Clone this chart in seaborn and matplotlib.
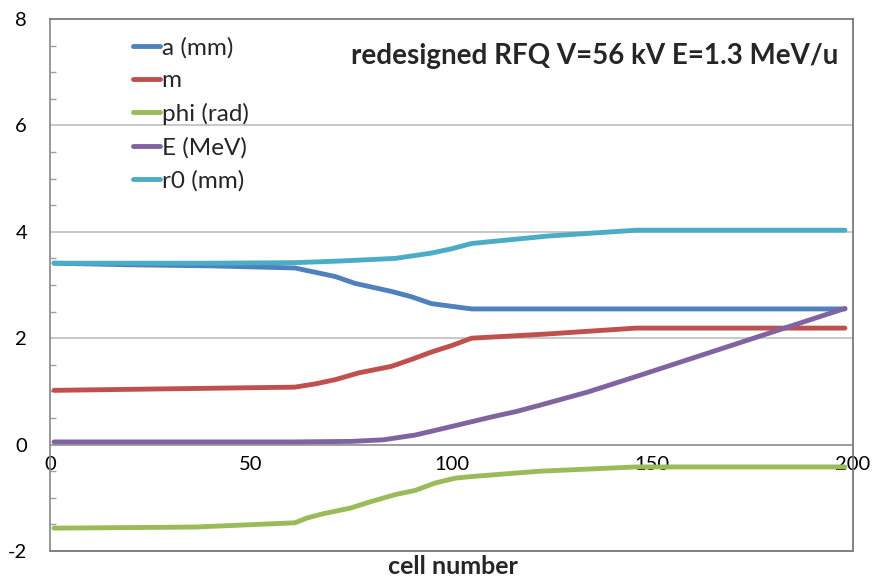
import numpy as np
import pandas as pd
import matplotlib
matplotlib.use("Agg")
import matplotlib.pyplot as plt
import seaborn as sns
from matplotlib.ticker import MultipleLocator

# ---- data ----
a_x = [1, 20, 40, 61, 66, 71, 76, 85, 90, 95, 100, 105, 198]
a_y = [3.41, 3.38, 3.36, 3.32, 3.24, 3.16, 3.03, 2.88, 2.78, 2.65, 2.60, 2.55, 2.55]

m_x = [1, 61, 66, 71, 77, 85, 90, 95, 100, 105, 124, 146, 198]
m_y = [1.02, 1.08, 1.14, 1.22, 1.35, 1.47, 1.60, 1.74, 1.86, 2.00, 2.08, 2.19, 2.19]

phi_x = [1, 36, 61, 64, 68, 75, 80, 86, 91, 96, 101, 105, 122, 146, 198]
phi_y = [-1.57, -1.55, -1.47, -1.38, -1.30, -1.19, -1.07, -0.94, -0.86, -0.72, -0.63, -0.60, -0.50, -0.42, -0.42]

E_x = [1, 60, 75, 83, 91, 100, 110, 116, 122, 134, 146, 172, 198]
E_y = [0.05, 0.05, 0.06, 0.09, 0.18, 0.34, 0.52, 0.62, 0.74, 0.99, 1.28, 1.92, 2.56]

r0_x = [1, 40, 61, 72, 86, 95, 100, 105, 124, 146, 198]
r0_y = [3.41, 3.41, 3.42, 3.45, 3.50, 3.60, 3.68, 3.78, 3.92, 4.03, 4.03]

series_names = ["a (mm)", "m", "phi (rad)", "E (MeV)", "r0 (mm)"]
colors = ["#4F81BD", "#C0504D", "#9BBB59", "#8064A2", "#4BACC6"]
x_ticks = [0, 50, 100, 150, 200]
y_ticks = [-2, 0, 2, 4, 6, 8]
title_text = "redesigned RFQ V=56 kV E=1.3 MeV/u"
x_label = "cell number"

frames = []
for name, xs, ys in zip(series_names,
                        [a_x, m_x, phi_x, E_x, r0_x],
                        [a_y, m_y, phi_y, E_y, r0_y]):
    frames.append(pd.DataFrame({"cell": xs, "value": ys, "series": name}))
df = pd.concat(frames, ignore_index=True)

sns.set_theme(style="white")
plt.rcParams["font.family"] = ["Lato", "DejaVu Sans"]
plt.rcParams["axes.unicode_minus"] = False

fig = plt.figure(figsize=(8.85, 5.84), dpi=100)
ax = fig.add_axes([50 / 885, 1 - 551 / 584, (853 - 50) / 885, (551 - 19) / 584])

sns.lineplot(data=df, x="cell", y="value", hue="series", hue_order=series_names,
             palette=colors, linewidth=3.5, estimator=None, sort=True, ax=ax,
             legend=False)

ax.set_xlim(0, 200)
ax.set_ylim(-2, 8)
ax.set_xticks(x_ticks)
ax.set_yticks(y_ticks)
ax.yaxis.set_minor_locator(MultipleLocator(0.5))

for y in [2, 4, 6]:
    ax.axhline(y, color="#bfbfbf", lw=1.2, zorder=0)

for s in ["top", "right"]:
    ax.spines[s].set_color("#6f6f6f")
    ax.spines[s].set_linewidth(1.2)
ax.spines["left"].set_color("#868686")
ax.spines["left"].set_linewidth(1.2)
ax.spines["bottom"].set_position(("data", 0))
ax.spines["bottom"].set_color("#8c8c8c")
ax.spines["bottom"].set_linewidth(1.2)
ax.axhline(-2, color="#7f7f7f", lw=1.4, clip_on=False, zorder=3)

ax.tick_params(axis="x", length=0, pad=8, labelsize=14.5, colors="black")
ax.tick_params(axis="y", which="major", direction="in", length=5, width=1,
               color="#868686", pad=16.5, labelsize=14.5, labelcolor="black")
ax.tick_params(axis="y", which="minor", direction="in", length=4, width=1,
               color="#a0a0a0", left=True)

ax.set_xlabel("")
ax.set_ylabel("")
fig.text(453 / 885, 1 - 567 / 584, x_label, ha="center", va="center",
         fontsize=18, fontweight="bold")

fig.text(838 / 885, 1 - 56 / 584, title_text, ha="right", va="center",
         fontsize=20, fontweight="bold")

handles = [plt.Line2D([], [], color=c, lw=3.5) for c in colors]
fig.legend(handles, series_names, loc="upper left",
           bbox_to_anchor=(133 / 885, 1 - 37 / 584), bbox_transform=fig.transFigure,
           frameon=False, fontsize=17.5, handlelength=1.1, handletextpad=0.08,
           labelspacing=0.48, borderpad=0, borderaxespad=0)

fig.savefig("out.png", dpi=100)
